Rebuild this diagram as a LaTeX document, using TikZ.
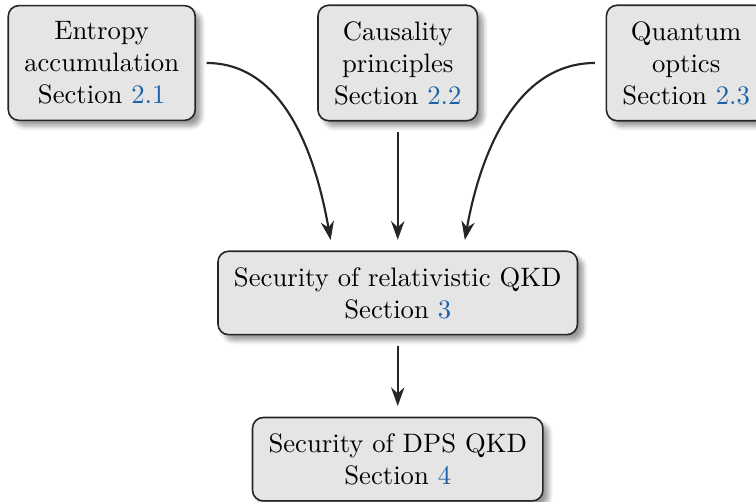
\documentclass[tikz,border=0pt]{standalone}
\usepackage{xcolor}
\usetikzlibrary{positioning,shadows.blur,arrows.meta}
\definecolor{seclink}{RGB}{28,98,168}
\newcommand{\secref}[1]{\textcolor{seclink}{#1}}
\begin{document}
\begin{tikzpicture}[>={Stealth[length=7pt,width=5pt]}, thick]
	\tikzstyle{topic} = [rectangle, rounded corners=4pt, draw=black!85, semithick, fill=gray!20, inner sep=6pt, align=center, blur shadow={shadow blur steps=6}]
	\tikzstyle{link} = [->, black!85, shorten >=4pt, shorten <=4pt]
	\useasboundingbox (-5.24,-2.75) rectangle (4.72,3.86);
	\node (security) [topic] {Security of relativistic QKD\\Section \secref{3}};
	\node (causality) [topic, above of=security, node distance=3.03cm] {Causality\\principles\\Section \secref{2.2}};
	\node (entropy) [topic, left of=causality, node distance=3.9cm] {Entropy\\accumulation\\Section \secref{2.1}};
	\node (optics) [topic, right of=causality, node distance=3.8cm] {Quantum\\optics\\Section \secref{2.3}};
	\node (dps) [topic, below of=security, node distance=2.19cm] {Security of DPS QKD\\Section \secref{4}};
	% arrows into the main result
	\draw[link] (entropy.east) to[out=0, in=100] ([xshift=-0.86cm]security.north);
	\draw[link] (causality) -- (security);
	\draw[link] (optics.west) to[out=180, in=80] ([xshift=0.86cm]security.north);
	\draw[link] (security) -- (dps);
\end{tikzpicture}
\end{document}
